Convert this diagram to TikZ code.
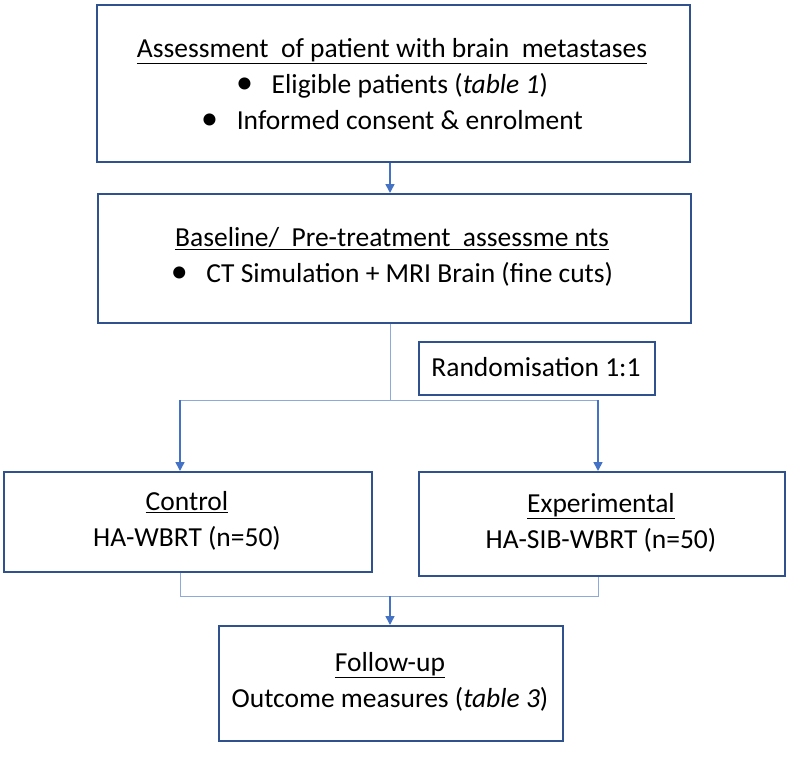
\documentclass[tikz,border=0pt]{standalone}
\usepackage{fontspec}
\setmainfont{Carlito}
\usetikzlibrary{arrows.meta}
\definecolor{arr}{HTML}{4472C4}
\definecolor{bd}{HTML}{2F528F}
\definecolor{lin}{HTML}{8EAADB}
\newcommand{\bul}{{\fontsize{34}{36}\selectfont\textbullet}}
\begin{document}
\begin{tikzpicture}[x=1pt,y=-1pt,
  box/.style={draw=bd,line width=1.6pt,fill=white},
  txt/.style={font=\fontsize{27.5}{36}\selectfont,align=center},
  ar/.style={draw=arr,line width=1.6pt,-{Triangle[width=9pt,length=9pt]}},
  ln/.style={draw=lin,line width=1pt}]
\useasboundingbox (0,0) rectangle (787,771);
\node[box,minimum width=593,minimum height=157,anchor=north west] (b1) at (96,4) {};
\node[txt] (t1) at (392,84) {\underline{Assessment\ \ of patient with brain\ \ metastases}\\
\bul\ \ \ Eligible patients (\textit{table 1})\\
\bul\ \ \ Informed consent \& enrolment};
\node[box,minimum width=593,minimum height=129,anchor=north west] (b2) at (97,193) {};
\node[txt] (t2) at (392,257) {\underline{Baseline/\ \ Pre-treatment\ \ assessme nts}\\
\bul\ \ \ CT Simulation + MRI Brain (fine cuts)};
\node[box,minimum width=236,minimum height=53,anchor=north west] (r) at (418,341) {};
\node[txt] at (536,367) {Randomisation 1:1};
\node[box,minimum width=368,minimum height=100,anchor=north west] (c) at (3,471) {};
\node[txt] at (187,521) {\underline{Control}\\HA-WBRT (n=50)};
\node[box,minimum width=366,minimum height=104,anchor=north west] (e) at (418,471) {};
\node[txt] at (601,523) {\underline{Experimental}\\HA-SIB-WBRT (n=50)};
\node[box,minimum width=344,minimum height=115,anchor=north west] (f) at (218,625) {};
\node[txt] at (390,682) {\underline{Follow-up}\\Outcome measures (\textit{table 3})};
\coordinate (s) at (390,400);
\coordinate (sl) at (180,400);
\coordinate (sr) at (598,400);
\coordinate (m) at (390,596);
\coordinate (ml) at (180,596);
\coordinate (mr) at (598,596);
\draw[ar] (b1.south -| 390,0) -- (b2.north -| 390,0);
\draw[ln] (b2.south -| 390,0) -- (s);
\draw[ln] (sl) -- (sr);
\draw[ar] (sl) -- (c.north -| sl);
\draw[ar] (sr) -- (e.north -| sr);
\draw[ln] (c.south -| ml) -- (ml) -- (mr) -- (e.south -| mr);
\draw[ar] (m) -- (f.north -| m);
\end{tikzpicture}
\end{document}
